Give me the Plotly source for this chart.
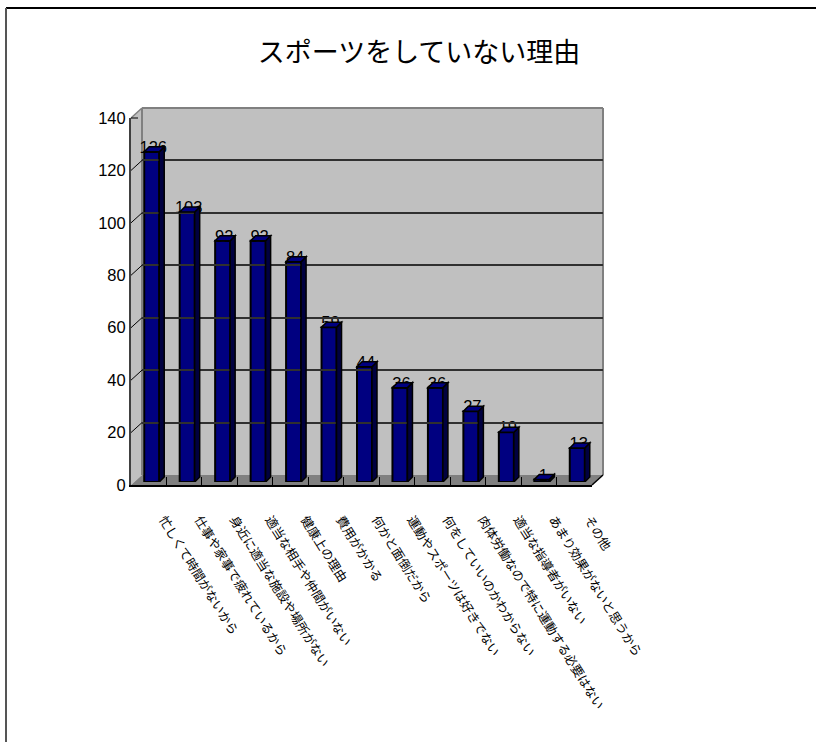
import plotly.graph_objects as go

categories = ["忙しくて時間がないから", "仕事や家事で疲れているから", "身近に適当な施設や場所がない",
              "適当な相手や仲間がいない", "健康上の理由", "費用がかかる", "何かと面倒だから",
              "運動やスポーツは好きでない", "何をしていいのかわからない", "肉体労働なので特に運動する必要はない",
              "適当な指導者がいない", "あまり効果がないと思うから", "その他"]
values = [126, 103, 92, 92, 84, 59, 44, 36, 36, 27, 19, 1, 13]
value_ticks = [0, 20, 40, 60, 80, 100, 120, 140]
title_text = "スポーツをしていない理由"

W, H = 816, 742
L, R, T, B = 131, 592, 118, 485       # front plane, page pixels
WALL = (11, 10)                       # back wall offset
PLANE = (3, 3)                        # bars offset from front plane
DEPTH = 5
BAR_W = 15
YMAX = 140
n = len(categories)
px_x = (R - L) / n
px_y = (B - T) / YMAX

def fx(p): return p / W
def fy(p): return 1 - p / H
def dom_x(s): return [fx(L + s), fx(R + s)]
def dom_y(s): return [fy(B - s), fy(T - s)]

FONT = "Liberation Sans"
CJK = "Noto Sans CJK JP"
xrange_ = [-0.5, n - 0.5]
idx = list(range(n))

fig = go.Figure()
fig.add_trace(go.Bar(x=idx, y=values, xaxis="x2", yaxis="y2", width=BAR_W / px_x,
                     marker=dict(color="#000080", line=dict(color="black", width=2)),
                     cliponaxis=False, hoverinfo="skip"))
fig.add_trace(go.Scatter(x=[i + 1.5 / px_x for i in idx], y=[v + 3 / px_y for v in values], xaxis="x2", yaxis="y2",
                         mode="text", text=[str(v) for v in values], textposition="middle center",
                         textfont=dict(family=FONT, size=16.5, color="black"),
                         cliponaxis=False, hoverinfo="skip"))
fig.add_trace(go.Scatter(x=[0], y=[0], xaxis="x", yaxis="y", mode="none", hoverinfo="skip"))
fig.add_trace(go.Scatter(x=[0], y=[0], xaxis="x3", yaxis="y3", mode="none", hoverinfo="skip"))
fig.add_trace(go.Scatter(x=[0], y=[0], xaxis="x4", yaxis="y", mode="none", hoverinfo="skip"))

shapes = []
def poly(pts, fill, lc=None, lw=0, layer="below"):
    path = "M" + " L".join(f"{fx(x)},{fy(y)}" for x, y in pts) + " Z"
    shapes.append(dict(type="path", xref="paper", yref="paper", path=path, fillcolor=fill,
                       line=dict(color=lc or fill, width=lw), layer=layer))
def seg(x0, y0, x1, y1, c, w, layer="below"):
    shapes.append(dict(type="line", xref="paper", yref="paper", x0=fx(x0), y0=fy(y0), x1=fx(x1), y1=fy(y1),
                       line=dict(color=c, width=w), layer=layer))

wx, wy = WALL
poly([(L + wx, T - wy), (R + wx, T - wy), (R + wx, B - wy), (L + wx, B - wy)], "#C0C0C0")
poly([(L, T), (L + wx, T - wy), (L + wx, B - wy), (L, B)], "#C0C0C0")
poly([(L, B), (L + wx, B - wy), (R + wx, B - wy), (R, B)], "#808080")
seg(L + wx, T - wy, R + wx, T - wy, "#808080", 2)
seg(L + wx, T - wy, L + wx, B - wy, "#808080", 2)
seg(R + wx, T - wy, R + wx, B - wy, "#808080", 2)
seg(L, T, L + wx, T - wy, "#808080", 1.5)
seg(L, T, L + 7, T, "black", 1)
seg(R, B, R + wx, B - wy, "black", 1.5)
for t in value_ticks[1:-1]:
    y = B - t * px_y
    seg(L, y, L + wx, y - wy, "black", 1)
seg(6, 8, W, 8, "black", 2)
seg(6, 8, 6, H, "#555555", 2)

hw = BAR_W / px_x / 2
dx = DEPTH / px_x
dy = DEPTH / px_y
for i, v in zip(idx, values):
    side = f"M{i+hw},{v} L{i+hw+dx},{v+dy} L{i+hw+dx},{dy} L{i+hw},0 Z"
    top = f"M{i-hw},{v} L{i-hw+dx},{v+dy} L{i+hw+dx},{v+dy} L{i+hw},{v} Z"
    for p, c in ((side, "#000040"), (top, "#000080")):
        shapes.append(dict(type="path", xref="x2", yref="y2", path=p, fillcolor=c,
                           line=dict(color="black", width=1.5), layer="above"))

hidden = dict(visible=False, fixedrange=True, automargin=False)
fig.update_layout(
    width=W, height=H, autosize=False, showlegend=False,
    margin=dict(l=0, r=0, t=0, b=0),
    paper_bgcolor="white", plot_bgcolor="rgba(0,0,0,0)",
    shapes=shapes,
    title=dict(text=title_text, x=fx(419), y=fy(53), xref="paper", yref="paper",
               xanchor="center", yanchor="middle",
               font=dict(family=CJK, size=27, color="black")),
    xaxis=dict(domain=dom_x(0), range=xrange_, anchor="y", showgrid=False, zeroline=False, automargin=False,
               showline=True, linecolor="black", linewidth=2,
               tickmode="array", tickvals=[i - 0.5 for i in range(n + 1)], ticktext=[""] * (n + 1),
               ticks="inside", ticklen=8, tickcolor="black", tickwidth=1),
    yaxis=dict(domain=dom_y(0), range=[0, YMAX], anchor="x", showgrid=False, zeroline=False, automargin=False,
               showline=True, linecolor="#404040", linewidth=2,
               tickmode="array", tickvals=value_ticks, ticks="", ticklabelstandoff=0,
               tickfont=dict(family=FONT, size=16.5, color="black")),
    xaxis2=dict(domain=dom_x(PLANE[0]), range=xrange_, anchor="y2", **hidden),
    yaxis2=dict(domain=dom_y(PLANE[1]), range=[0, YMAX], anchor="x2", **hidden),
    xaxis3=dict(domain=dom_x(wx), range=xrange_, anchor="y3", **hidden),
    yaxis3=dict(domain=dom_y(wy), range=[0, YMAX], anchor="x3", showgrid=True, gridcolor="#303030",
                gridwidth=1.5, zeroline=False, showline=False, ticks="", showticklabels=False, automargin=False,
                tickmode="array", tickvals=value_ticks[1:-1], fixedrange=True),
    xaxis4=dict(domain=dom_x(15), range=xrange_, anchor="y", showgrid=False, zeroline=False, automargin=False,
                showline=False, ticks="", tickmode="array", tickvals=idx, ticktext=categories,
                tickangle=58, ticklabelstandoff=24,
                tickfont=dict(family=CJK, size=12.5, color="black")),
)
fig.write_html("out.html", config=dict(displayModeBar=False),
               post_script="document.body.style.margin='0';document.documentElement.style.overflow='hidden';")
